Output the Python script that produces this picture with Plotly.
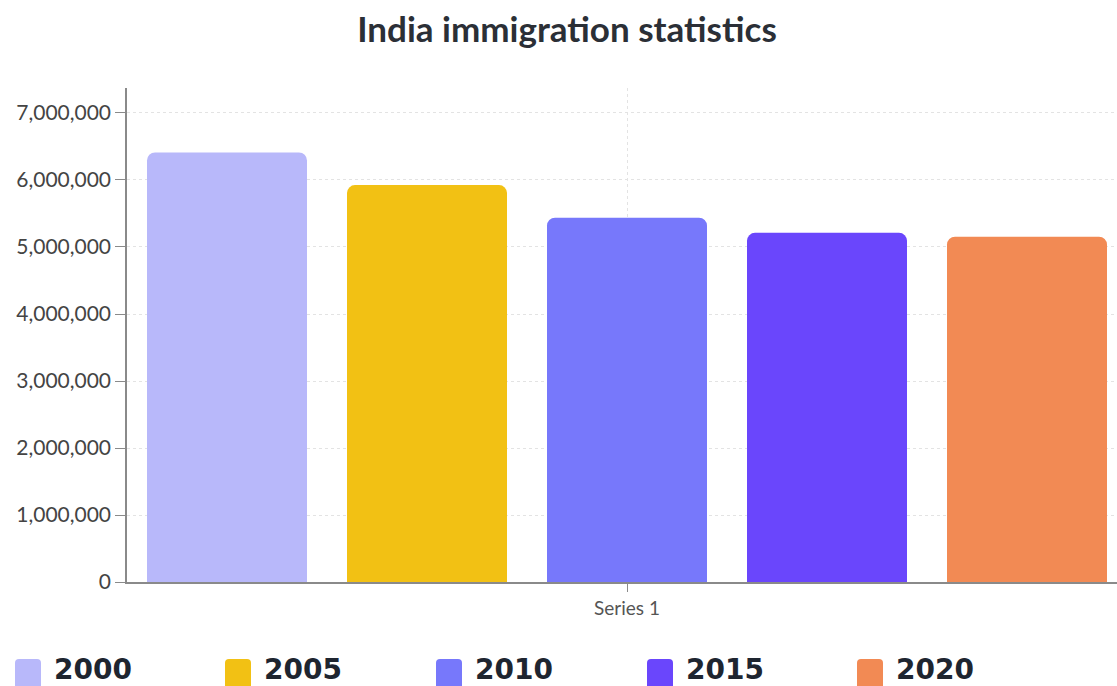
import plotly.graph_objects as go

# ---- data ----
categories = ["Series 1"]
years = ["2000", "2005", "2010", "2015", "2020"]
values = [6411331, 5923642, 5436012, 5211160, 5154737]
colors = ["#B8B8FA", "#F2C114", "#7778FB", "#6A46FC", "#F28A54"]
y_ticks = [0, 1000000, 2000000, 3000000, 4000000, 5000000, 6000000, 7000000]

W, H = 1117, 686
L, R, T, B = 127, 0, 88, 104
PW, PH = W - L - R, H - T - B

fig = go.Figure()
for yr, v, c in zip(years, values, colors):
    fig.add_trace(go.Bar(name=yr, x=categories, y=[v], marker=dict(color=c, line=dict(width=0)),
                         showlegend=False))

def px2x(px):
    return (px - L) / PW

def px2y(py):
    return (H - B - py) / PH

def rounded_rect(x0, y0, x1, y1, r):
    # pixel coords -> paper coords path with rounded corners
    pts = [
        f"M{px2x(x0 + r)},{px2y(y0)}",
        f"L{px2x(x1 - r)},{px2y(y0)}",
        f"Q{px2x(x1)},{px2y(y0)} {px2x(x1)},{px2y(y0 + r)}",
        f"L{px2x(x1)},{px2y(y1 - r)}",
        f"Q{px2x(x1)},{px2y(y1)} {px2x(x1 - r)},{px2y(y1)}",
        f"L{px2x(x0 + r)},{px2y(y1)}",
        f"Q{px2x(x0)},{px2y(y1)} {px2x(x0)},{px2y(y1 - r)}",
        f"L{px2x(x0)},{px2y(y0 + r)}",
        f"Q{px2x(x0)},{px2y(y0)} {px2x(x0 + r)},{px2y(y0)}",
        "Z",
    ]
    return " ".join(pts)

# custom legend (big swatches + bold labels)
shapes = []
annotations = []
leg_left = [15, 225, 436, 647, 857]
for i, (yr, c) in enumerate(zip(years, colors)):
    x0 = leg_left[i]
    shapes.append(dict(type="path", xref="paper", yref="paper",
                       path=rounded_rect(x0, 659, x0 + 26, 690, 4),
                       fillcolor=c, line=dict(width=0), layer="above"))
    annotations.append(dict(text=yr, xref="paper", yref="paper", x=px2x(x0 + 37), y=px2y(669),
                            xanchor="left", yanchor="middle", showarrow=False,
                            font=dict(family="DejaVu Sans", size=28, color="#1E2530", weight="bold")))

fig.update_layout(
    width=W, height=H,
    margin=dict(l=L, r=R, t=T, b=B, autoexpand=False),
    paper_bgcolor="white", plot_bgcolor="white",
    barmode="group", bargap=0, bargroupgap=0.2, barcornerradius=8,
    title=dict(text="India immigration statistics", xref="container", yref="container",
               x=567 / W, y=1 - 30 / H, xanchor="center", yanchor="middle",
               font=dict(family="Lato", size=35, color="#2B2F36", weight="bold")),
    font=dict(family="Lato", color="#555555"),
    showlegend=False,
    shapes=shapes,
    annotations=annotations,
)

fig.update_xaxes(type="category", range=[-0.5, 0.49],
                 showline=True, linecolor="#8A8A8A", linewidth=1.5,
                 ticks="outside", ticklen=8, tickcolor="#8A8A8A",
                 showgrid=True, gridcolor="#E3E3E3", griddash="3px,3px", gridwidth=1,
                 tickfont=dict(family="Lato", size=19, color="#555555"))
fig.update_yaxes(range=[0, 7373000], tickvals=y_ticks, tickformat=",d",
                 showline=True, linecolor="#8A8A8A", linewidth=1.5,
                 ticks="outside", ticklen=10, tickcolor="#8A8A8A",
                 showgrid=True, gridcolor="#E3E3E3", griddash="3px,3px", gridwidth=1,
                 zeroline=False,
                 tickfont=dict(family="Lato", size=21, color="#444444"))

fig.write_html("out.html", config={"displayModeBar": False},
               post_script="document.body.style.margin='0';document.body.style.overflow='hidden';")
